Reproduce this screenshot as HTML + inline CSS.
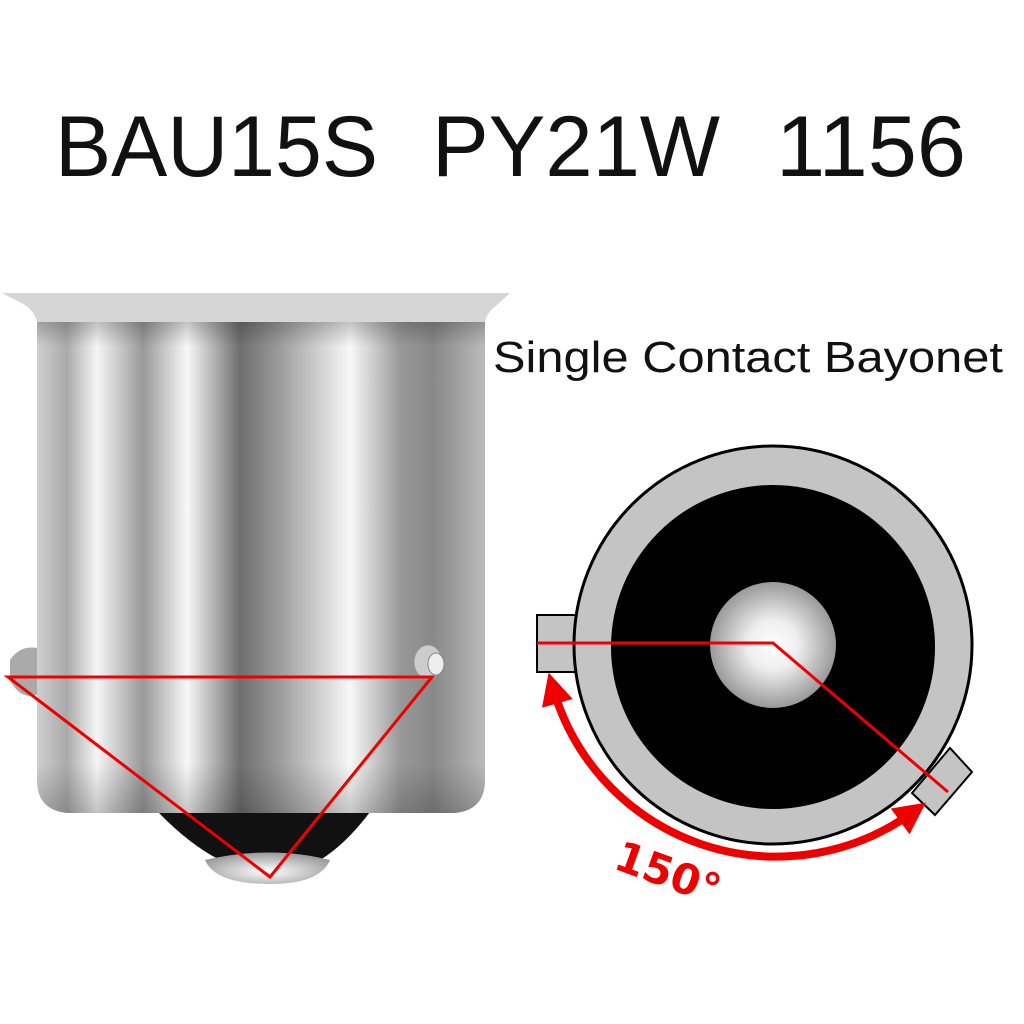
<!DOCTYPE html>
<html><head><meta charset="utf-8"><style>html,body{margin:0;padding:0;background:#fff}svg{display:block}</style></head>
<body>
<svg width="1024" height="1024" viewBox="0 0 1024 1024" xmlns="http://www.w3.org/2000/svg">
<defs>
<linearGradient id="body" x1="37" x2="485" y1="0" y2="0" gradientUnits="userSpaceOnUse">
<stop offset="0" stop-color="#cfcfcf"/>
<stop offset="0.066" stop-color="#aaa"/>
<stop offset="0.134" stop-color="#f5f5f5"/>
<stop offset="0.237" stop-color="#999"/>
<stop offset="0.335" stop-color="#f8f8f8"/>
<stop offset="0.453" stop-color="#6e6e6e"/>
<stop offset="0.536" stop-color="#999"/>
<stop offset="0.699" stop-color="#f8f8f8"/>
<stop offset="0.810" stop-color="#999"/>
<stop offset="0.884" stop-color="#888"/>
<stop offset="1" stop-color="#bbb"/>
</linearGradient>
<linearGradient id="shade" x1="0" x2="0" y1="317" y2="813" gradientUnits="userSpaceOnUse">
<stop offset="0" stop-color="#000" stop-opacity="0.25"/>
<stop offset="0.06" stop-color="#000" stop-opacity="0"/>
<stop offset="0.9" stop-color="#000" stop-opacity="0"/>
<stop offset="1" stop-color="#000" stop-opacity="0.2"/>
</linearGradient>
<radialGradient id="dome" cx="0.5" cy="0.6" r="0.6">
<stop offset="0" stop-color="#fff"/><stop offset="1" stop-color="#999"/>
</radialGradient>
<radialGradient id="ctr" cx="0.5" cy="0.5" r="0.5">
<stop offset="0" stop-color="#fff"/><stop offset="0.4" stop-color="#eee"/><stop offset="1" stop-color="#999"/>
</radialGradient>
<marker id="ah" viewBox="0 0 10 10" refX="5" refY="5" markerWidth="4" markerHeight="4" orient="auto-start-reverse">
<path d="M0,0 L10,5 L0,10 z" fill="#e00"/>
</marker>
</defs>

<g font-family="Liberation Sans, sans-serif" fill="#111">
<text x="55" y="176" font-size="86" textLength="323" lengthAdjust="spacingAndGlyphs">BAU15S</text>
<text x="432" y="176" font-size="86" textLength="288" lengthAdjust="spacingAndGlyphs">PY21W</text>
<text x="776" y="176" font-size="86" textLength="190" lengthAdjust="spacingAndGlyphs">1156</text>
<text x="493" y="372" font-size="44" textLength="510" lengthAdjust="spacingAndGlyphs">Single Contact Bayonet</text>
</g>

<!-- bulb base -->
<path d="M158,812 L370,812 Q345,845 320,860 L220,860 Q190,845 158,812 Z" fill="#111"/>
<path d="M205,860 Q270,845 330,860 Q320,884 270,884 Q215,884 205,860 Z" fill="url(#dome)"/>
<path d="M37,317 L485,317 L485,780 Q485,810 455,813 L67,813 Q37,810 37,780 Z" fill="url(#body)"/>
<path d="M37,317 L485,317 L485,780 Q485,810 455,813 L67,813 Q37,810 37,780 Z" fill="url(#shade)"/>
<path d="M2,293 L510,293 L497,305 Q487,312 485,322 L37,322 Q35,312 25,305 Z" fill="#d6d6d6"/>
<path d="M10,660 Q20,645 37,648 L37,695 Q20,700 10,680 Z" fill="#aaa"/>
<ellipse cx="428" cy="662" rx="14" ry="17" fill="#ccc" stroke="#999"/>
<ellipse cx="436" cy="664" rx="8" ry="11" fill="#eee" stroke="#888"/>
<polygon points="8,677 432,677 270,877" fill="none" stroke="#e00" stroke-width="3"/>

<!-- socket diagram -->
<rect x="537" y="615" width="40" height="57" fill="#c4c4c4" stroke="#000" stroke-width="2"/>
<polygon points="912,793 935,815 972,772 950,748" fill="#c4c4c4" stroke="#000" stroke-width="2"/>
<circle cx="773" cy="645" r="199" fill="#c4c4c4" stroke="#000" stroke-width="3"/>
<circle cx="773" cy="647" r="162" fill="#000"/>
<circle cx="773" cy="645" r="63" fill="url(#ctr)"/>
<polyline points="537,643 773,643 948,792" fill="none" stroke="#e00" stroke-width="3"/>
<path d="M553,688 A232,232 0 0 0 913,812" fill="none" stroke="#e00" stroke-width="8" marker-start="url(#ah)" marker-end="url(#ah)"/>
<text x="612" y="868" transform="rotate(20 612 868)" font-family="DejaVu Sans, sans-serif" font-weight="bold" font-size="42" fill="#e00">150°</text>
</svg>
</body></html>
